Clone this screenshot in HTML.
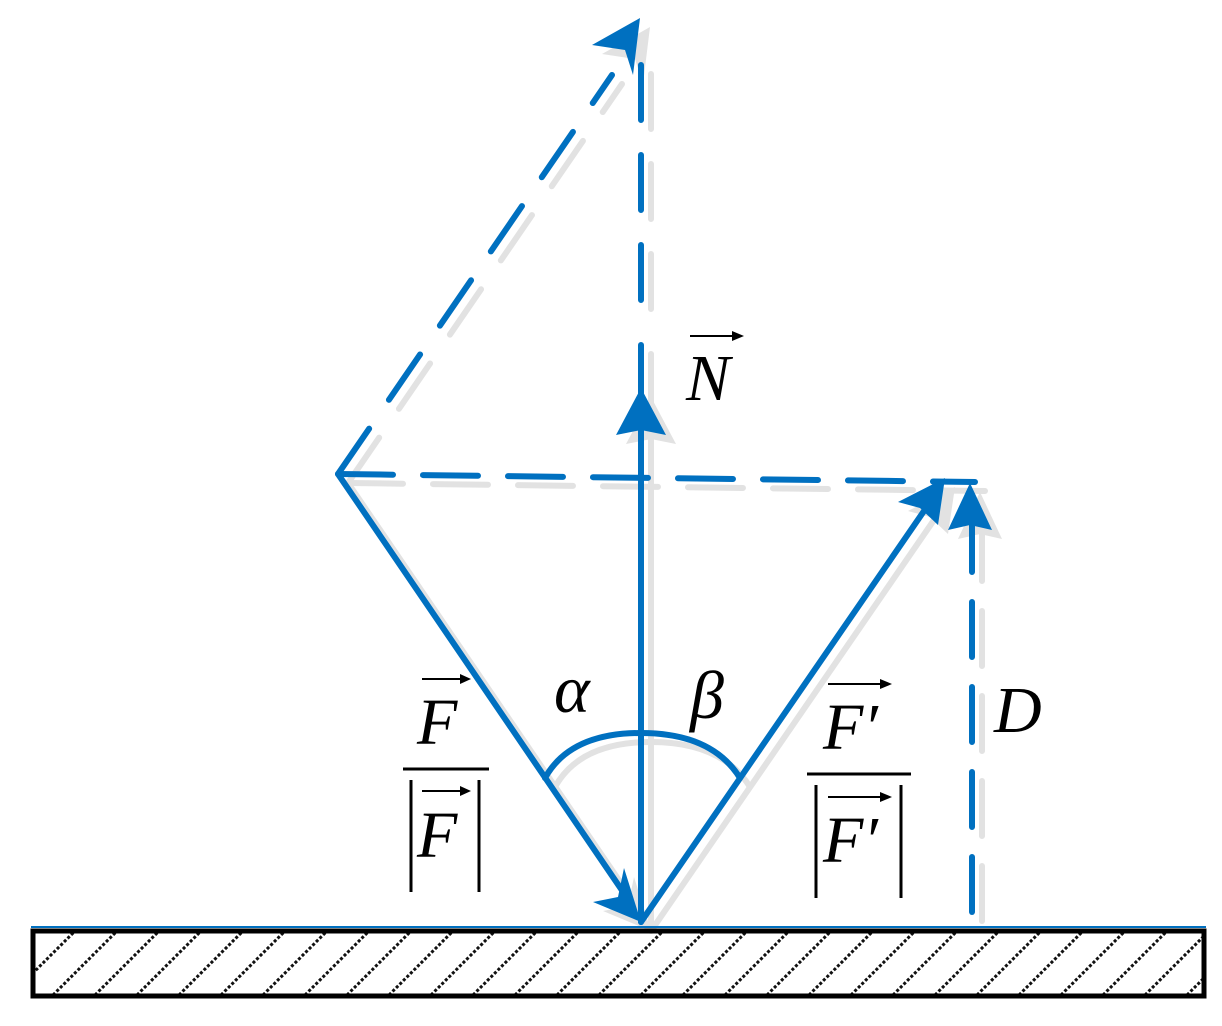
<!DOCTYPE html>
<html><head><meta charset="utf-8"><style>
html,body{margin:0;padding:0;background:#fff;}
svg{display:block}
text{font-family:"Liberation Serif",serif;font-style:italic;fill:#000}
</style></head><body>
<svg width="1222" height="1026" viewBox="0 0 1222 1026" xmlns="http://www.w3.org/2000/svg">
<defs>
<pattern id="h" x="33" y="931" width="42" height="64" patternUnits="userSpaceOnUse">
<line x1="-64" y1="64" x2="0" y2="0" stroke="#111" stroke-width="3" stroke-dasharray="3 2"/>
<line x1="-22" y1="64" x2="42" y2="0" stroke="#111" stroke-width="3" stroke-dasharray="3 2"/>
<line x1="20" y1="64" x2="84" y2="0" stroke="#111" stroke-width="3" stroke-dasharray="3 2"/>
</pattern>
<g id="fig" stroke-width="6" stroke-linecap="round" fill="none" stroke="currentColor">
<line x1="641" y1="922" x2="641" y2="345"/>
<line x1="641" y1="300" x2="641" y2="65" stroke-dasharray="55 35"/>
<line x1="338" y1="474" x2="612" y2="75" stroke-dasharray="55 35"/>
<line x1="338" y1="474" x2="632" y2="905"/>
<line x1="338" y1="474" x2="975" y2="482" stroke-dasharray="55 30"/>
<line x1="641" y1="922" x2="935" y2="495"/>
<line x1="972" y1="912" x2="972" y2="500" stroke-dasharray="55 30"/>
<path d="M545 778 Q570 733 641 733 Q712 733 740 778"/>
<g fill="currentColor" stroke="none">
<polygon points="641,388 616,435 641,430 666,435"/>
<polygon points="640,18 592,45 625,50 633,75"/>
<polygon points="641,922 593,902 618,897 624,868"/>
<polygon points="945,478 898,502 920,508 938,525"/>
<polygon points="970,483 948,530 970,525 992,530"/>
</g>
</g>
</defs>
<use href="#fig" transform="translate(10,9)" color="#e2e2e2"/>
<use href="#fig" color="#0070c0"/>
<line x1="31" y1="927" x2="1206" y2="927" stroke="#0070c0" stroke-width="2"/>
<rect x="33" y="931" width="1171" height="65" fill="url(#h)" stroke="#000" stroke-width="5"/>
<!-- labels -->
<text x="686" y="400" font-size="66">N</text>
<line x1="690" y1="336" x2="740" y2="336" stroke="#000" stroke-width="2"/>
<polygon points="744,336 732,331 732,341" fill="#000"/>
<text x="554" y="712" font-size="68">α</text>
<text x="690" y="718" font-size="68">β</text>
<text x="417" y="744" font-size="66">F</text>
<line x1="422" y1="679" x2="468" y2="679" stroke="#000" stroke-width="2"/>
<polygon points="471,679 460,674 460,684" fill="#000"/>
<line x1="403" y1="769" x2="489" y2="769" stroke="#000" stroke-width="3"/>
<line x1="411" y1="780" x2="411" y2="892" stroke="#000" stroke-width="3"/>
<line x1="479" y1="780" x2="479" y2="892" stroke="#000" stroke-width="3"/>
<text x="417" y="857" font-size="66">F</text>
<line x1="422" y1="791" x2="468" y2="791" stroke="#000" stroke-width="2"/>
<polygon points="471,791 460,786 460,796" fill="#000"/>
<text x="823" y="749" font-size="66">F′</text>
<line x1="828" y1="684" x2="888" y2="684" stroke="#000" stroke-width="2"/>
<polygon points="892,684 880,679 880,689" fill="#000"/>
<line x1="807" y1="774" x2="911" y2="774" stroke="#000" stroke-width="3"/>
<line x1="816" y1="785" x2="816" y2="898" stroke="#000" stroke-width="3"/>
<line x1="901" y1="785" x2="901" y2="898" stroke="#000" stroke-width="3"/>
<text x="823" y="862" font-size="66">F′</text>
<line x1="828" y1="797" x2="888" y2="797" stroke="#000" stroke-width="2"/>
<polygon points="892,797 880,792 880,802" fill="#000"/>
<text x="994" y="732" font-size="66">D</text>
</svg>
</body></html>
